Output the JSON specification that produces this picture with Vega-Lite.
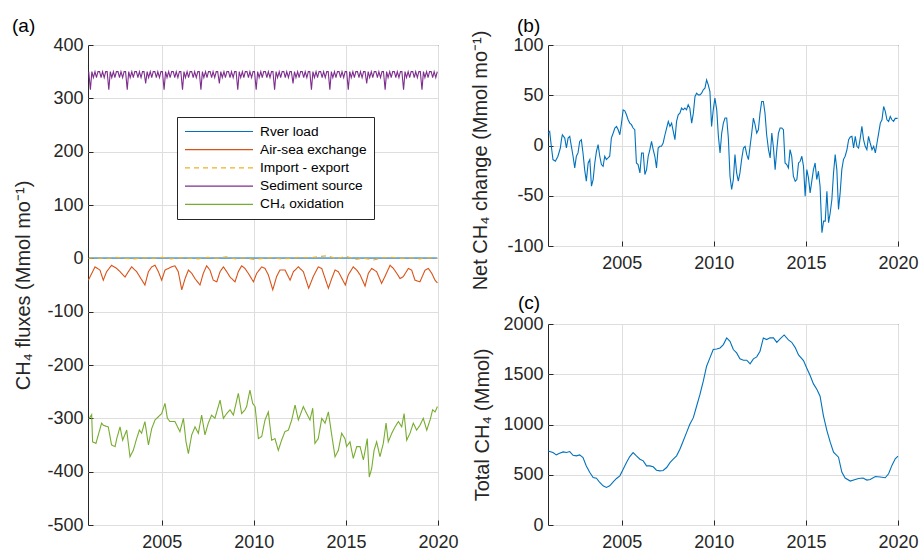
{
"$schema": "https://vega.github.io/schema/vega-lite/v6.json",
"background": "white",
"padding": {"left": 11, "top": 16, "right": 5, "bottom": 5},
"bounds": "flush",
"spacing": 110,
"datasets": {
"flux": [
{"k":"Rver load","t":2001.04,"v":0.5},{"k":"Rver load","t":2002.5,"v":0.5},{"k":"Rver load","t":2004,"v":0.6},{"k":"Rver load","t":2005.5,"v":0.5},{"k":"Rver load","t":2007,"v":0.6},{"k":"Rver load","t":2008.5,"v":0.5},{"k":"Rver load","t":2010,"v":0.7},{"k":"Rver load","t":2011.5,"v":0.5},{"k":"Rver load","t":2013,"v":0.6},{"k":"Rver load","t":2014.5,"v":0.5},{"k":"Rver load","t":2016,"v":0.6},{"k":"Rver load","t":2017.5,"v":0.5},{"k":"Rver load","t":2019,"v":0.6},{"k":"Rver load","t":2019.96,"v":0.5},
{"k":"Air-sea exchange","t":2001.02,"v":-41},{"k":"Air-sea exchange","t":2001.38,"v":-16},{"k":"Air-sea exchange","t":2001.65,"v":-22},{"k":"Air-sea exchange","t":2001.83,"v":-41},{"k":"Air-sea exchange","t":2002.01,"v":-25},{"k":"Air-sea exchange","t":2002.28,"v":-13},{"k":"Air-sea exchange","t":2002.56,"v":-19},{"k":"Air-sea exchange","t":2002.74,"v":-25},{"k":"Air-sea exchange","t":2003.01,"v":-35},{"k":"Air-sea exchange","t":2003.19,"v":-25},{"k":"Air-sea exchange","t":2003.37,"v":-16},{"k":"Air-sea exchange","t":2003.64,"v":-25},{"k":"Air-sea exchange","t":2003.82,"v":-35},{"k":"Air-sea exchange","t":2004.09,"v":-50},{"k":"Air-sea exchange","t":2004.28,"v":-25},{"k":"Air-sea exchange","t":2004.46,"v":-16},{"k":"Air-sea exchange","t":2004.64,"v":-13},{"k":"Air-sea exchange","t":2004.82,"v":-25},{"k":"Air-sea exchange","t":2005.0,"v":-41},{"k":"Air-sea exchange","t":2005.18,"v":-22},{"k":"Air-sea exchange","t":2005.36,"v":-19},{"k":"Air-sea exchange","t":2005.54,"v":-16},{"k":"Air-sea exchange","t":2005.72,"v":-14},{"k":"Air-sea exchange","t":2005.9,"v":-25},{"k":"Air-sea exchange","t":2006.09,"v":-59},{"k":"Air-sea exchange","t":2006.27,"v":-38},{"k":"Air-sea exchange","t":2006.45,"v":-22},{"k":"Air-sea exchange","t":2006.63,"v":-28},{"k":"Air-sea exchange","t":2006.81,"v":-38},{"k":"Air-sea exchange","t":2007.08,"v":-50},{"k":"Air-sea exchange","t":2007.26,"v":-28},{"k":"Air-sea exchange","t":2007.44,"v":-14},{"k":"Air-sea exchange","t":2007.62,"v":-22},{"k":"Air-sea exchange","t":2007.8,"v":-41},{"k":"Air-sea exchange","t":2007.99,"v":-44},{"k":"Air-sea exchange","t":2008.17,"v":-25},{"k":"Air-sea exchange","t":2008.35,"v":-16},{"k":"Air-sea exchange","t":2008.53,"v":-25},{"k":"Air-sea exchange","t":2008.71,"v":-35},{"k":"Air-sea exchange","t":2008.98,"v":-44},{"k":"Air-sea exchange","t":2009.16,"v":-25},{"k":"Air-sea exchange","t":2009.34,"v":-14},{"k":"Air-sea exchange","t":2009.52,"v":-19},{"k":"Air-sea exchange","t":2009.7,"v":-28},{"k":"Air-sea exchange","t":2009.98,"v":-44},{"k":"Air-sea exchange","t":2010.16,"v":-28},{"k":"Air-sea exchange","t":2010.43,"v":-16},{"k":"Air-sea exchange","t":2010.61,"v":-19},{"k":"Air-sea exchange","t":2010.79,"v":-31},{"k":"Air-sea exchange","t":2011.03,"v":-59},{"k":"Air-sea exchange","t":2011.24,"v":-34},{"k":"Air-sea exchange","t":2011.42,"v":-22},{"k":"Air-sea exchange","t":2011.7,"v":-22},{"k":"Air-sea exchange","t":2011.97,"v":-41},{"k":"Air-sea exchange","t":2012.15,"v":-25},{"k":"Air-sea exchange","t":2012.42,"v":-16},{"k":"Air-sea exchange","t":2012.69,"v":-25},{"k":"Air-sea exchange","t":2012.98,"v":-56},{"k":"Air-sea exchange","t":2013.23,"v":-34},{"k":"Air-sea exchange","t":2013.5,"v":-16},{"k":"Air-sea exchange","t":2013.69,"v":-19},{"k":"Air-sea exchange","t":2014.05,"v":-56},{"k":"Air-sea exchange","t":2014.23,"v":-38},{"k":"Air-sea exchange","t":2014.41,"v":-22},{"k":"Air-sea exchange","t":2014.59,"v":-25},{"k":"Air-sea exchange","t":2014.97,"v":-50},{"k":"Air-sea exchange","t":2015.13,"v":-31},{"k":"Air-sea exchange","t":2015.4,"v":-16},{"k":"Air-sea exchange","t":2015.59,"v":-22},{"k":"Air-sea exchange","t":2015.77,"v":-31},{"k":"Air-sea exchange","t":2016.04,"v":-52},{"k":"Air-sea exchange","t":2016.22,"v":-28},{"k":"Air-sea exchange","t":2016.4,"v":-19},{"k":"Air-sea exchange","t":2016.67,"v":-25},{"k":"Air-sea exchange","t":2016.94,"v":-47},{"k":"Air-sea exchange","t":2017.12,"v":-34},{"k":"Air-sea exchange","t":2017.4,"v":-13},{"k":"Air-sea exchange","t":2017.58,"v":-19},{"k":"Air-sea exchange","t":2017.76,"v":-28},{"k":"Air-sea exchange","t":2017.94,"v":-38},{"k":"Air-sea exchange","t":2018.12,"v":-34},{"k":"Air-sea exchange","t":2018.39,"v":-19},{"k":"Air-sea exchange","t":2018.57,"v":-22},{"k":"Air-sea exchange","t":2018.75,"v":-41},{"k":"Air-sea exchange","t":2019.02,"v":-44},{"k":"Air-sea exchange","t":2019.3,"v":-22},{"k":"Air-sea exchange","t":2019.48,"v":-19},{"k":"Air-sea exchange","t":2019.66,"v":-28},{"k":"Air-sea exchange","t":2019.84,"v":-41},{"k":"Air-sea exchange","t":2019.97,"v":-46},
{"k":"Import - export","t":2001.04,"v":0},{"k":"Import - export","t":2001.5,"v":1},{"k":"Import - export","t":2002,"v":-1},{"k":"Import - export","t":2002.5,"v":2},{"k":"Import - export","t":2003,"v":0},{"k":"Import - export","t":2003.5,"v":-1},{"k":"Import - export","t":2004,"v":1},{"k":"Import - export","t":2004.5,"v":0},{"k":"Import - export","t":2005,"v":2},{"k":"Import - export","t":2005.5,"v":-1},{"k":"Import - export","t":2006,"v":1},{"k":"Import - export","t":2006.5,"v":0},{"k":"Import - export","t":2007,"v":-1},{"k":"Import - export","t":2007.5,"v":2},{"k":"Import - export","t":2008,"v":0},{"k":"Import - export","t":2008.5,"v":3},{"k":"Import - export","t":2009,"v":-1},{"k":"Import - export","t":2009.5,"v":1},{"k":"Import - export","t":2010,"v":-2},{"k":"Import - export","t":2010.5,"v":0},{"k":"Import - export","t":2011,"v":1},{"k":"Import - export","t":2011.5,"v":-1},{"k":"Import - export","t":2012,"v":0},{"k":"Import - export","t":2012.5,"v":2},{"k":"Import - export","t":2013,"v":1},{"k":"Import - export","t":2013.5,"v":3},{"k":"Import - export","t":2014,"v":5},{"k":"Import - export","t":2014.5,"v":-1},{"k":"Import - export","t":2015,"v":4},{"k":"Import - export","t":2015.5,"v":-2},{"k":"Import - export","t":2016,"v":0},{"k":"Import - export","t":2016.5,"v":-3},{"k":"Import - export","t":2017,"v":1},{"k":"Import - export","t":2017.5,"v":2},{"k":"Import - export","t":2018,"v":0},{"k":"Import - export","t":2018.5,"v":1},{"k":"Import - export","t":2019,"v":-1},{"k":"Import - export","t":2019.5,"v":1},{"k":"Import - export","t":2019.96,"v":0},
{"k":"Sediment source","t":2001.04,"v":350},{"k":"Sediment source","t":2001.13,"v":316},{"k":"Sediment source","t":2001.21,"v":350},{"k":"Sediment source","t":2001.29,"v":339},{"k":"Sediment source","t":2001.38,"v":350},{"k":"Sediment source","t":2001.46,"v":339},{"k":"Sediment source","t":2001.54,"v":350},{"k":"Sediment source","t":2001.63,"v":350},{"k":"Sediment source","t":2001.71,"v":339},{"k":"Sediment source","t":2001.79,"v":350},{"k":"Sediment source","t":2001.88,"v":339},{"k":"Sediment source","t":2001.96,"v":350},
{"k":"Sediment source","t":2002.04,"v":350},{"k":"Sediment source","t":2002.13,"v":316},{"k":"Sediment source","t":2002.21,"v":350},{"k":"Sediment source","t":2002.29,"v":339},{"k":"Sediment source","t":2002.38,"v":350},{"k":"Sediment source","t":2002.46,"v":339},{"k":"Sediment source","t":2002.54,"v":350},{"k":"Sediment source","t":2002.63,"v":350},{"k":"Sediment source","t":2002.71,"v":339},{"k":"Sediment source","t":2002.79,"v":350},{"k":"Sediment source","t":2002.88,"v":339},{"k":"Sediment source","t":2002.96,"v":350},
{"k":"Sediment source","t":2003.04,"v":350},{"k":"Sediment source","t":2003.13,"v":316},{"k":"Sediment source","t":2003.21,"v":350},{"k":"Sediment source","t":2003.29,"v":339},{"k":"Sediment source","t":2003.38,"v":350},{"k":"Sediment source","t":2003.46,"v":339},{"k":"Sediment source","t":2003.54,"v":350},{"k":"Sediment source","t":2003.63,"v":350},{"k":"Sediment source","t":2003.71,"v":339},{"k":"Sediment source","t":2003.79,"v":350},{"k":"Sediment source","t":2003.88,"v":339},{"k":"Sediment source","t":2003.96,"v":350},
{"k":"Sediment source","t":2004.04,"v":350},{"k":"Sediment source","t":2004.13,"v":328},{"k":"Sediment source","t":2004.21,"v":350},{"k":"Sediment source","t":2004.29,"v":339},{"k":"Sediment source","t":2004.38,"v":350},{"k":"Sediment source","t":2004.46,"v":339},{"k":"Sediment source","t":2004.54,"v":350},{"k":"Sediment source","t":2004.63,"v":350},{"k":"Sediment source","t":2004.71,"v":339},{"k":"Sediment source","t":2004.79,"v":350},{"k":"Sediment source","t":2004.88,"v":339},{"k":"Sediment source","t":2004.96,"v":350},
{"k":"Sediment source","t":2005.04,"v":350},{"k":"Sediment source","t":2005.13,"v":316},{"k":"Sediment source","t":2005.21,"v":350},{"k":"Sediment source","t":2005.29,"v":339},{"k":"Sediment source","t":2005.38,"v":350},{"k":"Sediment source","t":2005.46,"v":339},{"k":"Sediment source","t":2005.54,"v":350},{"k":"Sediment source","t":2005.63,"v":350},{"k":"Sediment source","t":2005.71,"v":339},{"k":"Sediment source","t":2005.79,"v":350},{"k":"Sediment source","t":2005.88,"v":339},{"k":"Sediment source","t":2005.96,"v":350},
{"k":"Sediment source","t":2006.04,"v":350},{"k":"Sediment source","t":2006.13,"v":316},{"k":"Sediment source","t":2006.21,"v":350},{"k":"Sediment source","t":2006.29,"v":339},{"k":"Sediment source","t":2006.38,"v":350},{"k":"Sediment source","t":2006.46,"v":339},{"k":"Sediment source","t":2006.54,"v":350},{"k":"Sediment source","t":2006.63,"v":350},{"k":"Sediment source","t":2006.71,"v":339},{"k":"Sediment source","t":2006.79,"v":350},{"k":"Sediment source","t":2006.88,"v":339},{"k":"Sediment source","t":2006.96,"v":350},
{"k":"Sediment source","t":2007.04,"v":350},{"k":"Sediment source","t":2007.13,"v":316},{"k":"Sediment source","t":2007.21,"v":350},{"k":"Sediment source","t":2007.29,"v":339},{"k":"Sediment source","t":2007.38,"v":350},{"k":"Sediment source","t":2007.46,"v":339},{"k":"Sediment source","t":2007.54,"v":350},{"k":"Sediment source","t":2007.63,"v":350},{"k":"Sediment source","t":2007.71,"v":339},{"k":"Sediment source","t":2007.79,"v":350},{"k":"Sediment source","t":2007.88,"v":339},{"k":"Sediment source","t":2007.96,"v":350},
{"k":"Sediment source","t":2008.04,"v":350},{"k":"Sediment source","t":2008.13,"v":328},{"k":"Sediment source","t":2008.21,"v":350},{"k":"Sediment source","t":2008.29,"v":339},{"k":"Sediment source","t":2008.38,"v":350},{"k":"Sediment source","t":2008.46,"v":339},{"k":"Sediment source","t":2008.54,"v":350},{"k":"Sediment source","t":2008.63,"v":350},{"k":"Sediment source","t":2008.71,"v":339},{"k":"Sediment source","t":2008.79,"v":350},{"k":"Sediment source","t":2008.88,"v":339},{"k":"Sediment source","t":2008.96,"v":350},
{"k":"Sediment source","t":2009.04,"v":350},{"k":"Sediment source","t":2009.13,"v":316},{"k":"Sediment source","t":2009.21,"v":350},{"k":"Sediment source","t":2009.29,"v":339},{"k":"Sediment source","t":2009.38,"v":350},{"k":"Sediment source","t":2009.46,"v":339},{"k":"Sediment source","t":2009.54,"v":350},{"k":"Sediment source","t":2009.63,"v":350},{"k":"Sediment source","t":2009.71,"v":339},{"k":"Sediment source","t":2009.79,"v":350},{"k":"Sediment source","t":2009.88,"v":339},{"k":"Sediment source","t":2009.96,"v":350},
{"k":"Sediment source","t":2010.04,"v":350},{"k":"Sediment source","t":2010.13,"v":316},{"k":"Sediment source","t":2010.21,"v":350},{"k":"Sediment source","t":2010.29,"v":339},{"k":"Sediment source","t":2010.38,"v":350},{"k":"Sediment source","t":2010.46,"v":339},{"k":"Sediment source","t":2010.54,"v":350},{"k":"Sediment source","t":2010.63,"v":350},{"k":"Sediment source","t":2010.71,"v":339},{"k":"Sediment source","t":2010.79,"v":350},{"k":"Sediment source","t":2010.88,"v":339},{"k":"Sediment source","t":2010.96,"v":350},
{"k":"Sediment source","t":2011.04,"v":350},{"k":"Sediment source","t":2011.13,"v":316},{"k":"Sediment source","t":2011.21,"v":350},{"k":"Sediment source","t":2011.29,"v":339},{"k":"Sediment source","t":2011.38,"v":350},{"k":"Sediment source","t":2011.46,"v":339},{"k":"Sediment source","t":2011.54,"v":350},{"k":"Sediment source","t":2011.63,"v":350},{"k":"Sediment source","t":2011.71,"v":339},{"k":"Sediment source","t":2011.79,"v":350},{"k":"Sediment source","t":2011.88,"v":339},{"k":"Sediment source","t":2011.96,"v":350},
{"k":"Sediment source","t":2012.04,"v":350},{"k":"Sediment source","t":2012.13,"v":328},{"k":"Sediment source","t":2012.21,"v":350},{"k":"Sediment source","t":2012.29,"v":339},{"k":"Sediment source","t":2012.38,"v":350},{"k":"Sediment source","t":2012.46,"v":339},{"k":"Sediment source","t":2012.54,"v":350},{"k":"Sediment source","t":2012.63,"v":350},{"k":"Sediment source","t":2012.71,"v":339},{"k":"Sediment source","t":2012.79,"v":350},{"k":"Sediment source","t":2012.88,"v":339},{"k":"Sediment source","t":2012.96,"v":350},
{"k":"Sediment source","t":2013.04,"v":350},{"k":"Sediment source","t":2013.13,"v":316},{"k":"Sediment source","t":2013.21,"v":350},{"k":"Sediment source","t":2013.29,"v":339},{"k":"Sediment source","t":2013.38,"v":350},{"k":"Sediment source","t":2013.46,"v":339},{"k":"Sediment source","t":2013.54,"v":350},{"k":"Sediment source","t":2013.63,"v":350},{"k":"Sediment source","t":2013.71,"v":339},{"k":"Sediment source","t":2013.79,"v":350},{"k":"Sediment source","t":2013.88,"v":339},{"k":"Sediment source","t":2013.96,"v":350},
{"k":"Sediment source","t":2014.04,"v":350},{"k":"Sediment source","t":2014.13,"v":316},{"k":"Sediment source","t":2014.21,"v":350},{"k":"Sediment source","t":2014.29,"v":339},{"k":"Sediment source","t":2014.38,"v":350},{"k":"Sediment source","t":2014.46,"v":339},{"k":"Sediment source","t":2014.54,"v":350},{"k":"Sediment source","t":2014.63,"v":350},{"k":"Sediment source","t":2014.71,"v":339},{"k":"Sediment source","t":2014.79,"v":350},{"k":"Sediment source","t":2014.88,"v":339},{"k":"Sediment source","t":2014.96,"v":350},
{"k":"Sediment source","t":2015.04,"v":350},{"k":"Sediment source","t":2015.13,"v":316},{"k":"Sediment source","t":2015.21,"v":350},{"k":"Sediment source","t":2015.29,"v":339},{"k":"Sediment source","t":2015.38,"v":350},{"k":"Sediment source","t":2015.46,"v":339},{"k":"Sediment source","t":2015.54,"v":350},{"k":"Sediment source","t":2015.63,"v":350},{"k":"Sediment source","t":2015.71,"v":339},{"k":"Sediment source","t":2015.79,"v":350},{"k":"Sediment source","t":2015.88,"v":339},{"k":"Sediment source","t":2015.96,"v":350},
{"k":"Sediment source","t":2016.04,"v":350},{"k":"Sediment source","t":2016.13,"v":328},{"k":"Sediment source","t":2016.21,"v":350},{"k":"Sediment source","t":2016.29,"v":339},{"k":"Sediment source","t":2016.38,"v":350},{"k":"Sediment source","t":2016.46,"v":339},{"k":"Sediment source","t":2016.54,"v":350},{"k":"Sediment source","t":2016.63,"v":350},{"k":"Sediment source","t":2016.71,"v":339},{"k":"Sediment source","t":2016.79,"v":350},{"k":"Sediment source","t":2016.88,"v":339},{"k":"Sediment source","t":2016.96,"v":350},
{"k":"Sediment source","t":2017.04,"v":350},{"k":"Sediment source","t":2017.13,"v":316},{"k":"Sediment source","t":2017.21,"v":350},{"k":"Sediment source","t":2017.29,"v":339},{"k":"Sediment source","t":2017.38,"v":350},{"k":"Sediment source","t":2017.46,"v":339},{"k":"Sediment source","t":2017.54,"v":350},{"k":"Sediment source","t":2017.63,"v":350},{"k":"Sediment source","t":2017.71,"v":339},{"k":"Sediment source","t":2017.79,"v":350},{"k":"Sediment source","t":2017.88,"v":339},{"k":"Sediment source","t":2017.96,"v":350},
{"k":"Sediment source","t":2018.04,"v":350},{"k":"Sediment source","t":2018.13,"v":316},{"k":"Sediment source","t":2018.21,"v":350},{"k":"Sediment source","t":2018.29,"v":339},{"k":"Sediment source","t":2018.38,"v":350},{"k":"Sediment source","t":2018.46,"v":339},{"k":"Sediment source","t":2018.54,"v":350},{"k":"Sediment source","t":2018.63,"v":350},{"k":"Sediment source","t":2018.71,"v":339},{"k":"Sediment source","t":2018.79,"v":350},{"k":"Sediment source","t":2018.88,"v":339},{"k":"Sediment source","t":2018.96,"v":350},
{"k":"Sediment source","t":2019.04,"v":350},{"k":"Sediment source","t":2019.13,"v":316},{"k":"Sediment source","t":2019.21,"v":350},{"k":"Sediment source","t":2019.29,"v":339},{"k":"Sediment source","t":2019.38,"v":350},{"k":"Sediment source","t":2019.46,"v":339},{"k":"Sediment source","t":2019.54,"v":350},{"k":"Sediment source","t":2019.63,"v":350},{"k":"Sediment source","t":2019.71,"v":339},{"k":"Sediment source","t":2019.79,"v":350},{"k":"Sediment source","t":2019.88,"v":339},{"k":"Sediment source","t":2019.96,"v":350},
{"k":"CH₄ oxidation","t":2001.07,"v":-300},{"k":"CH₄ oxidation","t":2001.2,"v":-293},{"k":"CH₄ oxidation","t":2001.25,"v":-344},{"k":"CH₄ oxidation","t":2001.43,"v":-347},{"k":"CH₄ oxidation","t":2001.56,"v":-331},{"k":"CH₄ oxidation","t":2001.74,"v":-309},{"k":"CH₄ oxidation","t":2001.83,"v":-313},{"k":"CH₄ oxidation","t":2002.1,"v":-316},{"k":"CH₄ oxidation","t":2002.28,"v":-350},{"k":"CH₄ oxidation","t":2002.47,"v":-353},{"k":"CH₄ oxidation","t":2002.56,"v":-338},{"k":"CH₄ oxidation","t":2002.74,"v":-316},{"k":"CH₄ oxidation","t":2002.88,"v":-341},{"k":"CH₄ oxidation","t":2003.1,"v":-322},{"k":"CH₄ oxidation","t":2003.28,"v":-372},{"k":"CH₄ oxidation","t":2003.46,"v":-360},{"k":"CH₄ oxidation","t":2003.64,"v":-338},{"k":"CH₄ oxidation","t":2003.79,"v":-322},{"k":"CH₄ oxidation","t":2003.91,"v":-328},{"k":"CH₄ oxidation","t":2004.09,"v":-306},{"k":"CH₄ oxidation","t":2004.28,"v":-350},{"k":"CH₄ oxidation","t":2004.46,"v":-319},{"k":"CH₄ oxidation","t":2004.64,"v":-303},{"k":"CH₄ oxidation","t":2004.82,"v":-297},{"k":"CH₄ oxidation","t":2005.0,"v":-291},{"k":"CH₄ oxidation","t":2005.18,"v":-272},{"k":"CH₄ oxidation","t":2005.31,"v":-300},{"k":"CH₄ oxidation","t":2005.45,"v":-306},{"k":"CH₄ oxidation","t":2005.72,"v":-306},{"k":"CH₄ oxidation","t":2005.99,"v":-325},{"k":"CH₄ oxidation","t":2006.18,"v":-300},{"k":"CH₄ oxidation","t":2006.32,"v":-344},{"k":"CH₄ oxidation","t":2006.45,"v":-366},{"k":"CH₄ oxidation","t":2006.63,"v":-331},{"k":"CH₄ oxidation","t":2006.81,"v":-316},{"k":"CH₄ oxidation","t":2006.99,"v":-328},{"k":"CH₄ oxidation","t":2007.17,"v":-294},{"k":"CH₄ oxidation","t":2007.35,"v":-331},{"k":"CH₄ oxidation","t":2007.53,"v":-309},{"k":"CH₄ oxidation","t":2007.71,"v":-294},{"k":"CH₄ oxidation","t":2007.89,"v":-300},{"k":"CH₄ oxidation","t":2008.17,"v":-266},{"k":"CH₄ oxidation","t":2008.35,"v":-300},{"k":"CH₄ oxidation","t":2008.53,"v":-291},{"k":"CH₄ oxidation","t":2008.71,"v":-284},{"k":"CH₄ oxidation","t":2008.89,"v":-294},{"k":"CH₄ oxidation","t":2009.16,"v":-253},{"k":"CH₄ oxidation","t":2009.34,"v":-291},{"k":"CH₄ oxidation","t":2009.52,"v":-284},{"k":"CH₄ oxidation","t":2009.61,"v":-278},{"k":"CH₄ oxidation","t":2009.79,"v":-247},{"k":"CH₄ oxidation","t":2009.94,"v":-272},{"k":"CH₄ oxidation","t":2010.07,"v":-278},{"k":"CH₄ oxidation","t":2010.25,"v":-338},{"k":"CH₄ oxidation","t":2010.43,"v":-334},{"k":"CH₄ oxidation","t":2010.61,"v":-303},{"k":"CH₄ oxidation","t":2010.79,"v":-288},{"k":"CH₄ oxidation","t":2010.97,"v":-341},{"k":"CH₄ oxidation","t":2011.15,"v":-338},{"k":"CH₄ oxidation","t":2011.33,"v":-360},{"k":"CH₄ oxidation","t":2011.51,"v":-341},{"k":"CH₄ oxidation","t":2011.69,"v":-325},{"k":"CH₄ oxidation","t":2011.88,"v":-322},{"k":"CH₄ oxidation","t":2012.06,"v":-303},{"k":"CH₄ oxidation","t":2012.24,"v":-275},{"k":"CH₄ oxidation","t":2012.42,"v":-303},{"k":"CH₄ oxidation","t":2012.69,"v":-278},{"k":"CH₄ oxidation","t":2012.87,"v":-291},{"k":"CH₄ oxidation","t":2013.05,"v":-303},{"k":"CH₄ oxidation","t":2013.2,"v":-281},{"k":"CH₄ oxidation","t":2013.32,"v":-347},{"k":"CH₄ oxidation","t":2013.5,"v":-338},{"k":"CH₄ oxidation","t":2013.69,"v":-300},{"k":"CH₄ oxidation","t":2013.87,"v":-309},{"k":"CH₄ oxidation","t":2014.05,"v":-288},{"k":"CH₄ oxidation","t":2014.23,"v":-331},{"k":"CH₄ oxidation","t":2014.41,"v":-372},{"k":"CH₄ oxidation","t":2014.59,"v":-360},{"k":"CH₄ oxidation","t":2014.77,"v":-328},{"k":"CH₄ oxidation","t":2014.95,"v":-338},{"k":"CH₄ oxidation","t":2015.04,"v":-353},{"k":"CH₄ oxidation","t":2015.22,"v":-344},{"k":"CH₄ oxidation","t":2015.4,"v":-375},{"k":"CH₄ oxidation","t":2015.59,"v":-353},{"k":"CH₄ oxidation","t":2015.77,"v":-353},{"k":"CH₄ oxidation","t":2015.95,"v":-378},{"k":"CH₄ oxidation","t":2016.16,"v":-338},{"k":"CH₄ oxidation","t":2016.27,"v":-410},{"k":"CH₄ oxidation","t":2016.4,"v":-394},{"k":"CH₄ oxidation","t":2016.53,"v":-360},{"k":"CH₄ oxidation","t":2016.67,"v":-344},{"k":"CH₄ oxidation","t":2016.85,"v":-372},{"k":"CH₄ oxidation","t":2017.03,"v":-347},{"k":"CH₄ oxidation","t":2017.18,"v":-309},{"k":"CH₄ oxidation","t":2017.3,"v":-344},{"k":"CH₄ oxidation","t":2017.49,"v":-328},{"k":"CH₄ oxidation","t":2017.67,"v":-316},{"k":"CH₄ oxidation","t":2017.85,"v":-306},{"k":"CH₄ oxidation","t":2018.03,"v":-316},{"k":"CH₄ oxidation","t":2018.16,"v":-291},{"k":"CH₄ oxidation","t":2018.3,"v":-341},{"k":"CH₄ oxidation","t":2018.48,"v":-328},{"k":"CH₄ oxidation","t":2018.66,"v":-309},{"k":"CH₄ oxidation","t":2018.84,"v":-322},{"k":"CH₄ oxidation","t":2019.02,"v":-313},{"k":"CH₄ oxidation","t":2019.2,"v":-300},{"k":"CH₄ oxidation","t":2019.39,"v":-322},{"k":"CH₄ oxidation","t":2019.57,"v":-303},{"k":"CH₄ oxidation","t":2019.71,"v":-284},{"k":"CH₄ oxidation","t":2019.84,"v":-288},{"k":"CH₄ oxidation","t":2019.97,"v":-278}
],
"net": [
{"t":2001.0,"v":12.4},{"t":2001.09,"v":14.0},{"t":2001.18,"v":-0.8},{"t":2001.27,"v":-14.0},{"t":2001.4,"v":-15.7},{"t":2001.54,"v":-10.7},{"t":2001.67,"v":-2.5},{"t":2001.73,"v":5.8},{"t":2001.78,"v":10.7},{"t":2001.91,"v":7.4},{"t":2002.0,"v":-2.5},{"t":2002.09,"v":7.4},{"t":2002.18,"v":9.1},{"t":2002.27,"v":-0.8},{"t":2002.36,"v":-10.7},{"t":2002.45,"v":-22.3},{"t":2002.54,"v":-10.7},{"t":2002.63,"v":-7.4},{"t":2002.72,"v":4.1},{"t":2002.81,"v":5.8},{"t":2002.9,"v":-7.4},{"t":2002.99,"v":-24.0},{"t":2003.08,"v":-35.5},{"t":2003.18,"v":-17.4},{"t":2003.27,"v":-14.0},{"t":2003.36,"v":-40.5},{"t":2003.45,"v":-33.9},{"t":2003.54,"v":-17.4},{"t":2003.63,"v":-5.8},{"t":2003.72,"v":0.8},{"t":2003.81,"v":-10.7},{"t":2003.9,"v":-19.0},{"t":2003.99,"v":-20.7},{"t":2004.08,"v":-10.7},{"t":2004.17,"v":-14.0},{"t":2004.26,"v":-12.4},{"t":2004.35,"v":-10.7},{"t":2004.44,"v":7.4},{"t":2004.54,"v":12.4},{"t":2004.63,"v":17.4},{"t":2004.72,"v":19.0},{"t":2004.81,"v":15.7},{"t":2004.9,"v":10.7},{"t":2004.99,"v":22.3},{"t":2005.08,"v":35.5},{"t":2005.17,"v":34.5},{"t":2005.26,"v":30.6},{"t":2005.35,"v":25.6},{"t":2005.44,"v":22.3},{"t":2005.53,"v":20.7},{"t":2005.62,"v":17.4},{"t":2005.71,"v":15.7},{"t":2005.8,"v":-17.4},{"t":2005.89,"v":-19.0},{"t":2005.99,"v":-27.3},{"t":2006.08,"v":-7.4},{"t":2006.17,"v":-7.4},{"t":2006.26,"v":-28.9},{"t":2006.35,"v":-24.0},{"t":2006.44,"v":-10.7},{"t":2006.53,"v":-4.1},{"t":2006.62,"v":4.1},{"t":2006.71,"v":-4.1},{"t":2006.8,"v":-10.7},{"t":2006.89,"v":-22.3},{"t":2006.98,"v":-2.5},{"t":2007.07,"v":-0.8},{"t":2007.16,"v":-0.8},{"t":2007.25,"v":2.5},{"t":2007.35,"v":10.7},{"t":2007.44,"v":17.4},{"t":2007.53,"v":24.0},{"t":2007.62,"v":19.0},{"t":2007.71,"v":22.3},{"t":2007.8,"v":14.0},{"t":2007.89,"v":5.8},{"t":2007.98,"v":24.0},{"t":2008.07,"v":30.6},{"t":2008.16,"v":32.2},{"t":2008.25,"v":37.2},{"t":2008.34,"v":35.5},{"t":2008.43,"v":37.2},{"t":2008.52,"v":35.5},{"t":2008.61,"v":40.5},{"t":2008.7,"v":37.2},{"t":2008.8,"v":22.3},{"t":2008.89,"v":32.2},{"t":2008.98,"v":48.8},{"t":2009.07,"v":52.1},{"t":2009.16,"v":50.4},{"t":2009.25,"v":50.4},{"t":2009.34,"v":52.1},{"t":2009.43,"v":55.4},{"t":2009.52,"v":57.0},{"t":2009.61,"v":65.3},{"t":2009.7,"v":60.3},{"t":2009.79,"v":53.7},{"t":2009.88,"v":19.0},{"t":2009.97,"v":35.5},{"t":2010.06,"v":47.1},{"t":2010.16,"v":35.5},{"t":2010.25,"v":9.1},{"t":2010.34,"v":-7.4},{"t":2010.43,"v":12.4},{"t":2010.52,"v":22.3},{"t":2010.61,"v":27.3},{"t":2010.7,"v":27.3},{"t":2010.79,"v":7.4},{"t":2010.88,"v":-30.6},{"t":2010.97,"v":-43.8},{"t":2011.06,"v":-33.9},{"t":2011.15,"v":-9.1},{"t":2011.24,"v":-27.3},{"t":2011.33,"v":-35.5},{"t":2011.42,"v":-27.3},{"t":2011.51,"v":-14.0},{"t":2011.61,"v":-2.5},{"t":2011.7,"v":-0.8},{"t":2011.79,"v":-9.1},{"t":2011.88,"v":-14.0},{"t":2011.97,"v":-0.8},{"t":2012.06,"v":12.4},{"t":2012.15,"v":27.3},{"t":2012.24,"v":20.7},{"t":2012.33,"v":12.4},{"t":2012.42,"v":15.7},{"t":2012.51,"v":32.2},{"t":2012.6,"v":43.8},{"t":2012.69,"v":43.8},{"t":2012.78,"v":32.2},{"t":2012.87,"v":10.7},{"t":2012.97,"v":-4.1},{"t":2013.06,"v":-12.4},{"t":2013.15,"v":12.4},{"t":2013.24,"v":-2.5},{"t":2013.33,"v":-24.0},{"t":2013.42,"v":-4.1},{"t":2013.51,"v":12.4},{"t":2013.6,"v":17.4},{"t":2013.69,"v":17.4},{"t":2013.78,"v":15.7},{"t":2013.87,"v":-17.4},{"t":2013.96,"v":-19.0},{"t":2014.05,"v":-22.3},{"t":2014.14,"v":-4.1},{"t":2014.23,"v":-10.7},{"t":2014.32,"v":-30.6},{"t":2014.42,"v":-35.5},{"t":2014.51,"v":-33.9},{"t":2014.6,"v":-17.4},{"t":2014.69,"v":-15.7},{"t":2014.78,"v":-10.7},{"t":2014.87,"v":-20.7},{"t":2014.96,"v":-50.4},{"t":2015.05,"v":-24.0},{"t":2015.14,"v":-32.2},{"t":2015.23,"v":-47.1},{"t":2015.32,"v":-35.5},{"t":2015.41,"v":-24.0},{"t":2015.5,"v":-17.4},{"t":2015.59,"v":-33.9},{"t":2015.68,"v":-25.6},{"t":2015.77,"v":-40.5},{"t":2015.87,"v":-86.8},{"t":2015.96,"v":-75.2},{"t":2016.05,"v":-75.2},{"t":2016.14,"v":-45.5},{"t":2016.23,"v":-76.9},{"t":2016.32,"v":-66.9},{"t":2016.41,"v":-53.7},{"t":2016.5,"v":-27.3},{"t":2016.59,"v":-9.1},{"t":2016.68,"v":-24.0},{"t":2016.77,"v":-63.6},{"t":2016.86,"v":-47.1},{"t":2016.95,"v":-24.0},{"t":2017.04,"v":-14.0},{"t":2017.13,"v":-10.7},{"t":2017.23,"v":-4.1},{"t":2017.32,"v":5.8},{"t":2017.41,"v":8.4},{"t":2017.5,"v":9.1},{"t":2017.59,"v":-2.5},{"t":2017.68,"v":9.1},{"t":2017.77,"v":-0.8},{"t":2017.86,"v":-2.5},{"t":2017.95,"v":7.4},{"t":2018.04,"v":19.0},{"t":2018.13,"v":5.8},{"t":2018.22,"v":-0.8},{"t":2018.31,"v":-4.1},{"t":2018.4,"v":9.1},{"t":2018.49,"v":2.5},{"t":2018.59,"v":-4.1},{"t":2018.68,"v":-0.8},{"t":2018.77,"v":-7.4},{"t":2018.86,"v":2.5},{"t":2018.95,"v":12.4},{"t":2019.04,"v":22.3},{"t":2019.13,"v":25.6},{"t":2019.22,"v":38.8},{"t":2019.31,"v":33.9},{"t":2019.4,"v":25.6},{"t":2019.49,"v":24.0},{"t":2019.58,"v":28.9},{"t":2019.67,"v":25.6},{"t":2019.76,"v":24.0},{"t":2019.85,"v":27.0},{"t":2019.98,"v":27.0}
],
"total": [
{"t":2001.0,"v":737},{"t":2001.27,"v":721},{"t":2001.45,"v":698},{"t":2001.63,"v":714},{"t":2001.82,"v":727},{"t":2002.0,"v":721},{"t":2002.18,"v":731},{"t":2002.36,"v":694},{"t":2002.54,"v":688},{"t":2002.72,"v":698},{"t":2002.9,"v":671},{"t":2003.08,"v":588},{"t":2003.27,"v":522},{"t":2003.45,"v":473},{"t":2003.63,"v":466},{"t":2003.81,"v":423},{"t":2003.99,"v":390},{"t":2004.17,"v":374},{"t":2004.35,"v":390},{"t":2004.54,"v":430},{"t":2004.72,"v":463},{"t":2004.9,"v":489},{"t":2005.08,"v":555},{"t":2005.26,"v":621},{"t":2005.44,"v":681},{"t":2005.62,"v":721},{"t":2005.8,"v":688},{"t":2005.99,"v":655},{"t":2006.17,"v":638},{"t":2006.35,"v":588},{"t":2006.53,"v":588},{"t":2006.71,"v":579},{"t":2006.89,"v":545},{"t":2007.07,"v":539},{"t":2007.25,"v":542},{"t":2007.44,"v":572},{"t":2007.62,"v":621},{"t":2007.8,"v":655},{"t":2007.98,"v":688},{"t":2008.16,"v":754},{"t":2008.34,"v":836},{"t":2008.52,"v":919},{"t":2008.7,"v":1002},{"t":2008.89,"v":1068},{"t":2009.07,"v":1184},{"t":2009.25,"v":1299},{"t":2009.43,"v":1431},{"t":2009.61,"v":1580},{"t":2009.79,"v":1663},{"t":2009.97,"v":1746},{"t":2010.16,"v":1752},{"t":2010.34,"v":1762},{"t":2010.52,"v":1795},{"t":2010.7,"v":1861},{"t":2010.88,"v":1828},{"t":2011.06,"v":1746},{"t":2011.24,"v":1712},{"t":2011.42,"v":1653},{"t":2011.61,"v":1640},{"t":2011.79,"v":1640},{"t":2011.97,"v":1603},{"t":2012.15,"v":1653},{"t":2012.33,"v":1673},{"t":2012.51,"v":1729},{"t":2012.69,"v":1861},{"t":2012.87,"v":1845},{"t":2013.05,"v":1862},{"t":2013.24,"v":1862},{"t":2013.42,"v":1818},{"t":2013.6,"v":1851},{"t":2013.82,"v":1891},{"t":2014.05,"v":1842},{"t":2014.23,"v":1818},{"t":2014.42,"v":1765},{"t":2014.6,"v":1692},{"t":2014.87,"v":1636},{"t":2015.05,"v":1560},{"t":2015.23,"v":1487},{"t":2015.41,"v":1404},{"t":2015.6,"v":1348},{"t":2015.77,"v":1282},{"t":2015.95,"v":1089},{"t":2016.14,"v":940},{"t":2016.32,"v":824},{"t":2016.5,"v":725},{"t":2016.77,"v":675},{"t":2016.95,"v":526},{"t":2017.13,"v":467},{"t":2017.41,"v":437},{"t":2017.68,"v":453},{"t":2017.86,"v":463},{"t":2018.1,"v":467},{"t":2018.31,"v":447},{"t":2018.49,"v":453},{"t":2018.77,"v":483},{"t":2019.03,"v":477},{"t":2019.31,"v":470},{"t":2019.49,"v":510},{"t":2019.67,"v":593},{"t":2019.85,"v":659},{"t":2020.0,"v":685}
]
},
"hconcat": [
{
"width": 350, "height": 480,
"title": {"text": "(a)", "dx": -76, "dy": 4},
"data": {"name": "flux"},
"mark": {"type": "line", "strokeWidth": 1.1},
"encoding": {
"x": {"field": "t", "type": "quantitative", "scale": {"domain": [2001, 2020], "nice": false, "zero": false}, "axis": {"values": [2005, 2010, 2015, 2020], "format": "d", "title": null}},
"y": {"field": "v", "type": "quantitative", "scale": {"domain": [-500, 400], "nice": false}, "axis": {"values": [-500, -400, -300, -200, -100, 0, 100, 200, 300, 400], "labelExpr": "'' + datum.value", "title": "CH₄ fluxes (Mmol mo⁻¹)", "titlePadding": 13.5}},
"color": {"field": "k", "type": "nominal", "scale": {"domain": ["Rver load", "Air-sea exchange", "Import - export", "Sediment source", "CH₄ oxidation"], "range": ["#0072BD", "#D95319", "#EDB120", "#7E2F8E", "#77AC30"]}, "legend": {"title": null, "orient": "none", "legendX": 89, "legendY": 72}},
"strokeDash": {"field": "k", "type": "nominal", "scale": {"domain": ["Rver load", "Air-sea exchange", "Import - export", "Sediment source", "CH₄ oxidation"], "range": [[1, 0], [1, 0], [5, 4], [1, 0], [1, 0]]}, "legend": {"title": null, "orient": "none", "legendX": 89, "legendY": 72}}
}
},
{
"vconcat": [
{
"width": 350, "height": 201,
"title": {"text": "(b)", "dx": -31, "dy": 10},
"data": {"name": "net"},
"mark": {"type": "line", "strokeWidth": 1.1, "color": "#0072BD"},
"encoding": {
"x": {"field": "t", "type": "quantitative", "scale": {"domain": [2001, 2020], "nice": false, "zero": false}, "axis": {"values": [2005, 2010, 2015, 2020], "format": "d", "title": null}},
"y": {"field": "v", "type": "quantitative", "scale": {"domain": [-100, 100], "nice": false}, "axis": {"values": [-100, -50, 0, 50, 100], "labelExpr": "'' + datum.value", "title": "Net CH₄ change (Mmol mo⁻¹)", "titleY": 115, "titlePadding": 16}}
}
},
{
"width": 350, "height": 201,
"title": {"text": "(c)", "dx": -30, "dy": 2},
"data": {"name": "total"},
"mark": {"type": "line", "strokeWidth": 1.1, "color": "#0072BD"},
"encoding": {
"x": {"field": "t", "type": "quantitative", "scale": {"domain": [2001, 2020], "nice": false, "zero": false}, "axis": {"values": [2005, 2010, 2015, 2020], "format": "d", "title": null}},
"y": {"field": "v", "type": "quantitative", "scale": {"domain": [0, 2000], "nice": false}, "axis": {"values": [0, 500, 1000, 1500, 2000], "labelExpr": "'' + datum.value", "title": "Total CH₄ (Mmol)", "titlePadding": 10}}
}
}
],
"spacing": 78,
"bounds": "flush"
}
],
"config": {
"font": "Liberation Sans",
"view": {"stroke": "#262626", "strokeWidth": 1},
"axis": {"domain": false, "ticks": true, "tickSize": -5, "tickColor": "#262626", "tickWidth": 1, "grid": true, "gridColor": "#dedede", "gridWidth": 1, "labelFont": "Liberation Sans", "labelFontSize": 18, "labelColor": "#262626", "titleFont": "Liberation Sans", "titleFontSize": 20, "titleFontWeight": "normal", "titleColor": "#262626", "labelFlush": false},
"axisX": {"labelPadding": 13},
"axisY": {"labelPadding": 10},
"title": {"font": "Liberation Sans", "fontSize": 19, "fontWeight": "normal", "color": "#000000", "anchor": "start", "frame": "group", "offset": 0},
"legend": {"symbolType": "stroke", "symbolSize": 4624, "symbolStrokeWidth": 1.2, "clipHeight": 15, "rowPadding": 3.2, "labelFont": "Liberation Sans", "labelFontSize": 13.7, "labelColor": "#000000", "labelOffset": 6, "padding": 7, "strokeColor": "#262626", "fillColor": "#ffffff", "cornerRadius": 0}
}
}
